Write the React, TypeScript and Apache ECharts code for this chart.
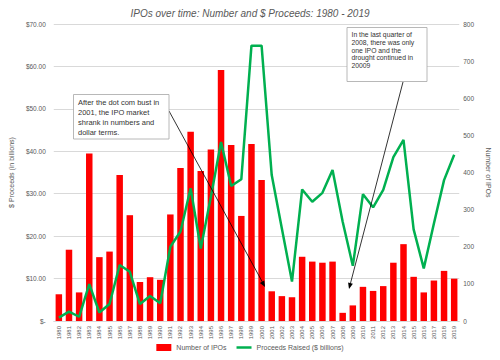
import React, { useEffect, useRef } from "react";
import * as echarts from "echarts";

const years: string[] = [];
for (let y = 1980; y <= 2019; y++) years.push(String(y));

const ipoCounts = [72, 192, 77, 451, 172, 187, 393, 285, 105, 118, 111, 287, 412, 510, 404, 462, 676, 474, 283, 477, 380, 80, 67, 64, 173, 160, 157, 160, 22, 42, 92, 81, 94, 157, 207, 119, 77, 109, 135, 114];

const proceeds = [0.8, 2.2, 1.0, 8.7, 2.0, 4.0, 13.2, 11.6, 4.0, 5.9, 4.2, 17.5, 21.1, 31.3, 17.1, 29.3, 42.2, 31.8, 33.4, 64.9, 64.9, 34.4, 21.8, 9.3, 31.0, 28.1, 30.2, 35.6, 23.4, 13.0, 29.9, 26.8, 30.9, 38.6, 42.7, 21.6, 12.4, 23.0, 33.2, 39.2];

const note1 = ["After the dot com bust in", "2001, the IPO market", "shrank in numbers and", "dollar terms."];
const note2 = ["In the last quarter of", "2008, there was only", "one IPO and the", "drought continued in", "20009"];

const FONT = "'Liberation Sans', Arial, sans-serif";
const GRAY = "#595959";

export default function App() {
  const ref = useRef<HTMLDivElement>(null);
  useEffect(() => {
    document.body.style.margin = "0";
    const chart = echarts.init(ref.current!, undefined, { renderer: "svg" });
    const textLines = (lines: string[], x: number, y: number, lh: number, size: number) =>
      lines.map((t, i) => ({
        type: "text",
        x,
        y: y + i * lh,
        style: { text: t, fontSize: size, fontFamily: FONT, fill: "#333", textVerticalAlign: "middle" },
        z: 101,
      }));
    chart.setOption({
      animation: false,
      textStyle: { fontFamily: FONT },
      title: {
        text: "IPOs over time: Number and $ Proceeds: 1980 - 2019",
        left: "center",
        top: 3,
        textStyle: { fontSize: 10, fontStyle: "italic", fontWeight: "normal", color: GRAY, fontFamily: FONT },
      },
      grid: { left: 46, right: 36.5, top: 24, bottom: 39, containLabel: false },
      legend: {
        bottom: 4,
        left: "center",
        itemWidth: 15,
        itemHeight: 7,
        itemGap: 10,
        symbolKeepAspect: true,
        textStyle: { fontSize: 7, color: GRAY, fontFamily: FONT },
        data: [
          { name: "Number of IPOs", icon: "rect" },
          { name: "Proceeds Raised ($ billions)", icon: "path://M0,0H30V5H0Z" },
        ],
      },
      xAxis: {
        type: "category",
        data: years,
        axisTick: { show: false },
        axisLine: { lineStyle: { color: "#d9d9d9" } },
        axisLabel: { rotate: 90, fontSize: 6, color: GRAY, interval: 0, margin: 5 },
      },
      yAxis: [
        {
          type: "value",
          min: 0,
          max: 70,
          interval: 10,
          name: "$ Proceeds (in billions)",
          nameLocation: "middle",
          nameGap: 32,
          nameTextStyle: { fontSize: 7, color: GRAY },
          axisLine: { show: false },
          axisTick: { show: false },
          splitLine: { lineStyle: { color: "#d9d9d9" } },
          axisLabel: {
            fontSize: 6.5,
            color: GRAY,
            margin: 8,
            formatter: (v: number) => (v === 0 ? "$-" : "$" + v.toFixed(2)),
          },
        },
        {
          type: "value",
          min: 0,
          max: 800,
          interval: 100,
          name: "Number of IPOs",
          nameLocation: "middle",
          nameRotate: -90,
          nameGap: 22,
          nameTextStyle: { fontSize: 7, color: GRAY },
          axisLine: { show: false },
          axisTick: { show: false },
          splitLine: { show: false },
          axisLabel: { fontSize: 6.5, color: GRAY, margin: 4 },
        },
      ],
      series: [
        {
          name: "Number of IPOs",
          type: "bar",
          yAxisIndex: 1,
          data: ipoCounts,
          barCategoryGap: "36%",
          itemStyle: { color: "#ff0000" },
        },
        {
          name: "Proceeds Raised ($ billions)",
          type: "line",
          yAxisIndex: 0,
          data: proceeds,
          symbol: "none",
          lineStyle: { color: "#00b050", width: 2.5 },
          itemStyle: { color: "#00b050" },
        },
      ],
      graphic: [
        { type: "line", shape: { x1: 169, y1: 111, x2: 264, y2: 285 }, style: { stroke: "#000", lineWidth: 0.8 }, z: 100 },
        { type: "polygon", shape: { points: [[265, 287], [259.9, 282.9], [264.3, 280.5]] }, style: { fill: "#000" }, z: 100 },
        { type: "line", shape: { x1: 403, y1: 82, x2: 349.5, y2: 287 }, style: { stroke: "#000", lineWidth: 0.8 }, z: 100 },
        { type: "polygon", shape: { points: [[349, 289], [352.9, 283.8], [348.1, 282.6]] }, style: { fill: "#000" }, z: 100 },
        { type: "rect", shape: { x: 73.5, y: 94.5, width: 95.5, height: 44.5 }, style: { fill: "#fff", stroke: "#a6a6a6", lineWidth: 0.8 }, z: 100 },
        ...textLines(note1, 78, 102.5, 10, 7.5),
        { type: "rect", shape: { x: 347, y: 27.5, width: 80, height: 54 }, style: { fill: "#fff", stroke: "#a6a6a6", lineWidth: 0.8 }, z: 100 },
        ...textLines(note2, 351.5, 34.5, 7.8, 6.8),
      ],
    });
    return () => chart.dispose();
  }, []);
  return <div ref={ref} style={{ width: 500, height: 360 }} />;
}
